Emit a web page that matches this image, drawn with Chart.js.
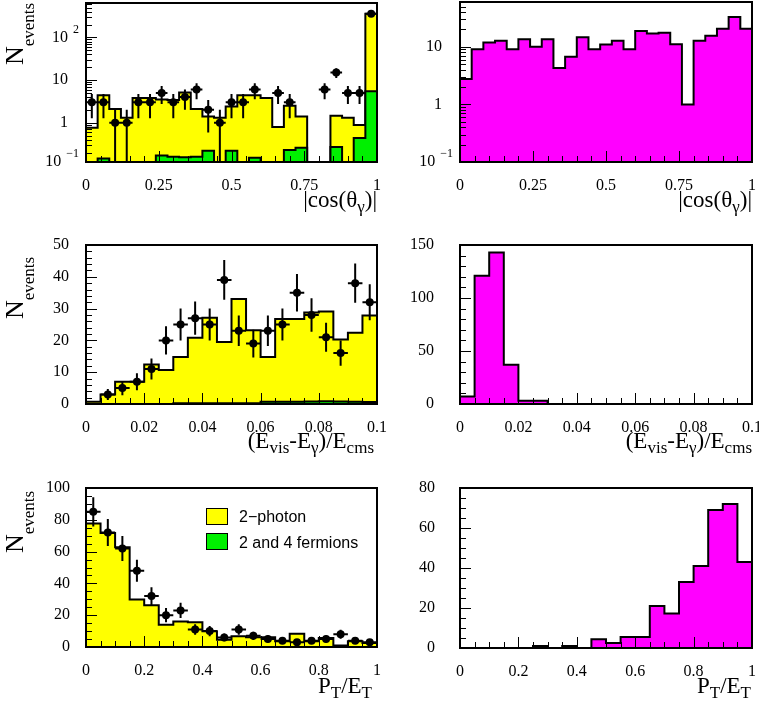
<!DOCTYPE html>
<html>
<head>
<meta charset="utf-8">
<script src="https://cdn.jsdelivr.net/npm/chart.js@4.4.1/dist/chart.umd.min.js"></script>
<style>
  html, body { margin: 0; padding: 0; background: #fff; }
  body { position: relative; width: 759px; height: 709px; overflow: hidden; font-family: 'Liberation Serif', 'Times New Roman', serif; color: #000; }
  canvas { position: absolute; }
  .xt { position: absolute; font-size: 23px; line-height: 23px; white-space: nowrap; text-align: right; }
  .xt .s { font-size: 17px; position: relative; top: 5px; }
  .yt { position: absolute; font-size: 26px; line-height: 26px; white-space: nowrap; transform: rotate(-90deg); transform-origin: left top; }
  .yt .s { font-size: 17px; position: relative; top: 11px; }
  .leg { position: absolute; font-family: 'Liberation Sans', Arial, sans-serif; font-size: 16px; line-height: 18px; white-space: nowrap; }
  .box { position: absolute; width: 20px; height: 15px; border: 1.5px solid #000; }
</style>
</head>
<body>
<canvas id="cosAll" width="390" height="230" style="left:0;top:0"></canvas>
<canvas id="cosSig" width="369" height="230" style="left:390px;top:0"></canvas>
<canvas id="evisAll" width="390" height="245" style="left:0;top:230px"></canvas>
<canvas id="evisSig" width="369" height="245" style="left:390px;top:230px"></canvas>
<canvas id="ptAll" width="390" height="234" style="left:0;top:475px"></canvas>
<canvas id="ptSig" width="369" height="234" style="left:390px;top:475px"></canvas>

<div class="yt" style="left:2px;top:65px">N<span class="s">events</span></div>
<div class="yt" style="left:2px;top:319px">N<span class="s">events</span></div>
<div class="yt" style="left:2px;top:553px">N<span class="s">events</span></div>

<div class="xt" style="right:382px;top:188px">|cos(θ<span class="s">γ</span>)|</div>
<div class="xt" style="right:7px;top:188px">|cos(θ<span class="s">γ</span>)|</div>
<div class="xt" style="right:385px;top:429px">(E<span class="s">vis</span>-E<span class="s">γ</span>)/E<span class="s">cms</span></div>
<div class="xt" style="right:7px;top:429px">(E<span class="s">vis</span>-E<span class="s">γ</span>)/E<span class="s">cms</span></div>
<div class="xt" style="right:387px;top:674px">P<span class="s">T</span>/E<span class="s">T</span></div>
<div class="xt" style="right:8px;top:674px">P<span class="s">T</span>/E<span class="s">T</span></div>

<div class="box" style="left:206px;top:508px;background:#ffff00"></div>
<div class="leg" style="left:239px;top:508px">2−photon</div>
<div class="box" style="left:206px;top:533px;background:#00f000"></div>
<div class="leg" style="left:239px;top:534px">2 and 4 fermions</div>

<script>
// |cos(theta_gamma)|, 25 bins from 0 to 1
const cosTotal = [0.76, 4.4, 2.1, 1.3, 3.8, 3.8, 3.5, 3.4, 5.1, 2.1, 1.4, 1.3, 2.4, 4.4, 4.4, 3.8, 0.79, 2.5, 1.4, 0, 0, 1.45, 1.3, 0.88, 360];
const cosFermion = [0, 0.145, 0, 0, 0, 0, 0.17, 0.16, 0.155, 0.16, 0.22, 0, 0.22, 0, 0.15, 0, 0, 0.23, 0.26, 0, 0, 0.27, 0, 0.44, 5.5];
const cosData = [3, 3, 1, 1, 3, 3, 5, 3, 4, 6, 2, 1, 3, 3, 6, null, 5, 3, null, null, 6, 15, 5, 5, 360];
const cosSignal = [2.75, 9.1, 11.9, 12.7, 9.1, 13.5, 10, 13.5, 4.3, 6.7, 14.7, 9.1, 11, 12.7, 9.1, 18.9, 17, 17.5, 11.1, 1.0, 12.7, 15.5, 20.5, 33, 20.5];

// (Evis-Egamma)/Ecms, 20 bins from 0 to 0.1
const evisTotal = [0.7, 3, 7, 7, 12.4, 10.7, 14.8, 20.8, 27.1, 19.5, 33, 23.2, 14.8, 26.7, 26.7, 28.8, 29.1, 20.3, 22.4, 27.8];
const evisFermion = [0, 0, 0, 0, 0, 0, 0.2, 0.2, 0.2, 0.2, 0.2, 0.2, 0.7, 0.7, 0.7, 0.8, 0.9, 0.8, 0.7, 0.6];
const evisData = [null, 3, 5, 7, 11, 20, 25, 27, 25, 39, 23, 19, 23, 25, 35, 28, 21, 16, 38, 32];
const evisSignal = [7, 121, 143, 37, 3, 3, 0, 0, 0, 0, 0, 0, 0, 0, 0, 0, 0, 0, 0, 0];

// PT/ET, 20 bins from 0 to 1
const ptTotal = [77.6, 71.7, 62.7, 29.8, 26.2, 14, 16.1, 15.5, 9.9, 4.6, 6.7, 6.1, 6.1, 3.6, 8.4, 3.6, 5.7, 1, 3.6, 2.5];
const ptData = [85, 72, 62, 48, 32, 20, 23, 11, 10, 6, 11, 7, 5, 4, 3, 4, 5, 8, 4, 3];
const ptSignal = [0, 0, 0, 0, 0, 1, 0, 1, 0, 4.4, 2.5, 5.5, 5.5, 21, 17.2, 33, 41, 69, 72, 43];

// axis ticks
const cosTicks = [0, 0.25, 0.5, 0.75, 1];
const cosTickLabels = ['0', '0.25', '0.5', '0.75', '1'];
const evisTicks = [0, 0.02, 0.04, 0.06, 0.08, 0.1];
const evisTickLabels = ['0', '0.02', '0.04', '0.06', '0.08', '0.1'];
const ptTicks = [0, 0.2, 0.4, 0.6, 0.8, 1];
const ptTickLabels = ['0', '0.2', '0.4', '0.6', '0.8', '1'];
const logTicksAll = [0.12, 1, 10, 100];
const logLabelsAll = ['10^-1', '1', '10', '10^2'];
const logTicksSig = [0.1, 1, 10];
const logLabelsSig = ['10^-1', '1', '10'];

const YELLOW = '#ffff00';
const GREEN = '#00f000';
const MAGENTA = '#ff00ff';
const SERIF = 'Liberation Serif, Times New Roman, serif';
const FONT = { family: SERIF, size: 16 };
const LOG_FLOOR = 1e-3; // empty bins on a log axis sit below the frame

function histPoints(values, lo, hi, floor) {
  const w = (hi - lo) / values.length;
  const yOf = v => (v > 0 ? v : floor);
  const pts = values.map((v, i) => ({ x: lo + i * w, y: yOf(v) }));
  pts.push({ x: hi, y: yOf(values[values.length - 1]) });
  return pts;
}

function markerPoints(values, lo, hi) {
  const w = (hi - lo) / values.length;
  return values.map((v, i) => (v == null ? null : { x: lo + (i + 0.5) * w, y: v })).filter(Boolean);
}

function errorSegments(values, lo, hi, floor) {
  const w = (hi - lo) / values.length;
  const out = [];
  values.forEach((v, i) => {
    if (v == null) return;
    const xc = lo + (i + 0.5) * w;
    const e = Math.sqrt(v);
    const low = v - e > 0 ? v - e : floor;
    out.push({ x: xc, y: low }, { x: xc, y: v + e }, { x: xc, y: null });
    out.push({ x: xc - w / 2, y: v }, { x: xc + w / 2, y: v }, { x: xc, y: null });
  });
  return out;
}

function histDataset(values, lo, hi, color, order, floor = 0) {
  return {
    data: histPoints(values, lo, hi, floor),
    stepped: 'before',
    fill: 'start',
    backgroundColor: color,
    borderColor: '#000',
    borderWidth: 2,
    borderJoinStyle: 'miter',
    pointRadius: 0,
    order
  };
}

function dataDatasets(values, lo, hi, floor = 0) {
  return [
    {
      data: markerPoints(values, lo, hi),
      showLine: false,
      pointRadius: 4,
      pointBackgroundColor: '#000',
      pointBorderWidth: 0,
      order: 0
    },
    {
      data: errorSegments(values, lo, hi, floor),
      borderColor: '#000',
      borderWidth: 2,
      pointRadius: 0,
      spanGaps: false,
      order: 1
    }
  ];
}

function steps(lo, hi, step) {
  const out = [];
  for (let i = 0; lo + i * step <= hi + 1e-9; i++) out.push(lo + i * step);
  return out;
}

function logMinor(lo, hi) {
  const out = [];
  [0.01, 0.1, 1, 10, 100, 1000].forEach(d => {
    for (let k = 1; k <= 9; k++) {
      const v = k * d;
      if (v > lo && v < hi) out.push(v);
    }
  });
  return out;
}

// inward ticks on bottom and left, the frame, and 10^n labels for log axes
const frameTicks = {
  id: 'frameTicks',
  afterDatasetsDraw(chart, args, opts) {
    const { ctx, chartArea: a, scales: { x, y } } = chart;
    ctx.save();
    ctx.strokeStyle = '#000';
    ctx.lineWidth = 1;
    ctx.beginPath();
    const xTick = (v, len) => {
      const px = Math.round(x.getPixelForValue(v)) + 0.5;
      ctx.moveTo(px, a.bottom);
      ctx.lineTo(px, a.bottom - len);
    };
    const yTick = (v, len) => {
      const py = Math.round(y.getPixelForValue(v)) + 0.5;
      ctx.moveTo(a.left, py);
      ctx.lineTo(a.left + len, py);
    };
    opts.xMinor.forEach(v => xTick(v, 6));
    opts.xMajor.forEach(v => xTick(v, 11));
    opts.yMinor.forEach(v => yTick(v, 6));
    opts.yMajor.forEach(v => yTick(v, 11));
    ctx.stroke();
    ctx.lineWidth = 2;
    ctx.strokeRect(a.left, a.top, a.right - a.left, a.bottom - a.top);

    if (opts.expLabels) {
      ctx.fillStyle = '#000';
      ctx.textBaseline = 'middle';
      ctx.textAlign = 'right';
      opts.yMajor.forEach((v, i) => {
        const [base, exp] = opts.expLabels[i].split('^');
        const py = y.getPixelForValue(v);
        if (exp) {
          const expText = exp.replace('-', '−');
          ctx.font = '12px ' + SERIF;
          const ew = ctx.measureText(expText).width;
          const ex = a.left - 7;
          ctx.fillText(expText, ex, py - 8);
          ctx.font = '16px ' + SERIF;
          ctx.fillText(base, ex - ew - 5, py);
        } else {
          ctx.font = '16px ' + SERIF;
          ctx.fillText(base, a.left - 18, py);
        }
      });
    }
    ctx.restore();
  }
};
Chart.register(frameTicks);
Chart.defaults.font.family = SERIF;
Chart.defaults.font.size = 16;

function makePanel(id, p) {
  return new Chart(document.getElementById(id), {
    type: 'line',
    data: { datasets: p.datasets },
    options: {
      responsive: false,
      animation: false,
      events: [],
      layout: { autoPadding: false, padding: p.pad },
      plugins: {
        legend: { display: false },
        tooltip: { enabled: false },
        frameTicks: { xMajor: p.xTicks, xMinor: p.xMinor, yMajor: p.yTicks, yMinor: p.yMinor, expLabels: p.yLog ? p.yLabels : null }
      },
      scales: {
        x: {
          type: 'linear',
          min: p.xRange[0],
          max: p.xRange[1],
          grid: { display: false },
          border: { display: false },
          afterBuildTicks: s => { s.ticks = p.xTicks.map(v => ({ value: v })); },
          afterFit: s => { s.height = 40; s.paddingLeft = 0; s.paddingRight = 0; },
          ticks: { font: FONT, color: '#000', padding: 6, maxRotation: 0, autoSkip: false, callback: (v, i) => p.xLabels[i] }
        },
        y: {
          type: p.yLog ? 'logarithmic' : 'linear',
          min: p.yRange[0],
          max: p.yRange[1],
          grid: { display: false },
          border: { display: false },
          afterBuildTicks: s => { s.ticks = p.yTicks.map(v => ({ value: v })); },
          afterFit: s => { s.width = p.yWidth; s.paddingTop = 0; s.paddingBottom = 0; },
          ticks: { display: !p.yLog, font: FONT, color: '#000', padding: p.yPad, autoSkip: false, callback: (v, i) => p.yLabels[i] }
        }
      }
    }
  });
}

const LEFT = { yWidth: 86, right: 13 };
const RIGHT = { yWidth: 70, right: 7 };

function drawAll() {
  makePanel('cosAll', {
    datasets: [
      ...dataDatasets(cosData, 0, 1, LOG_FLOOR),
      histDataset(cosFermion, 0, 1, GREEN, 2, LOG_FLOOR),
      histDataset(cosTotal, 0, 1, YELLOW, 3, LOG_FLOOR)
    ],
    pad: { left: 0, right: LEFT.right, top: 3, bottom: 28 },
    yWidth: LEFT.yWidth, yPad: 9,
    xRange: [0, 1], xTicks: cosTicks, xLabels: cosTickLabels, xMinor: steps(0, 1, 0.05),
    yLog: true, yRange: [0.12, 640], yTicks: logTicksAll, yLabels: logLabelsAll, yMinor: logMinor(0.12, 640)
  });

  makePanel('cosSig', {
    datasets: [histDataset(cosSignal, 0, 1, MAGENTA, 3, LOG_FLOOR)],
    pad: { left: 0, right: RIGHT.right, top: 2, bottom: 28 },
    yWidth: RIGHT.yWidth, yPad: 7,
    xRange: [0, 1], xTicks: cosTicks, xLabels: cosTickLabels, xMinor: steps(0, 1, 0.05),
    yLog: true, yRange: [0.1, 60], yTicks: logTicksSig, yLabels: logLabelsSig, yMinor: logMinor(0.1, 60)
  });

  makePanel('evisAll', {
    datasets: [
      ...dataDatasets(evisData, 0, 0.1),
      histDataset(evisFermion, 0, 0.1, GREEN, 2),
      histDataset(evisTotal, 0, 0.1, YELLOW, 3)
    ],
    pad: { left: 0, right: LEFT.right, top: 15, bottom: 31 },
    yWidth: LEFT.yWidth, yPad: 9,
    xRange: [0, 0.1], xTicks: evisTicks, xLabels: evisTickLabels, xMinor: steps(0, 0.1, 0.005),
    yLog: false, yRange: [0, 50], yTicks: steps(0, 50, 10), yLabels: ['0', '10', '20', '30', '40', '50'], yMinor: steps(0, 50, 2)
  });

  makePanel('evisSig', {
    datasets: [histDataset(evisSignal, 0, 0.1, MAGENTA, 3)],
    pad: { left: 0, right: RIGHT.right, top: 15, bottom: 31 },
    yWidth: RIGHT.yWidth, yPad: 18,
    xRange: [0, 0.1], xTicks: evisTicks, xLabels: evisTickLabels, xMinor: steps(0, 0.1, 0.005),
    yLog: false, yRange: [0, 150], yTicks: steps(0, 150, 50), yLabels: ['0', '50', '100', '150'], yMinor: steps(0, 150, 10)
  });

  makePanel('ptAll', {
    datasets: [
      ...dataDatasets(ptData, 0, 1),
      histDataset(ptTotal, 0, 1, YELLOW, 3)
    ],
    pad: { left: 0, right: LEFT.right, top: 13, bottom: 22 },
    yWidth: LEFT.yWidth, yPad: 8,
    xRange: [0, 1], xTicks: ptTicks, xLabels: ptTickLabels, xMinor: steps(0, 1, 0.05),
    yLog: false, yRange: [0, 100], yTicks: steps(0, 100, 20), yLabels: ['0', '20', '40', '60', '80', '100'], yMinor: steps(0, 100, 5)
  });

  makePanel('ptSig', {
    datasets: [histDataset(ptSignal, 0, 1, MAGENTA, 3)],
    pad: { left: 0, right: RIGHT.right, top: 13, bottom: 21 },
    yWidth: RIGHT.yWidth, yPad: 17,
    xRange: [0, 1], xTicks: ptTicks, xLabels: ptTickLabels, xMinor: steps(0, 1, 0.05),
    yLog: false, yRange: [0, 80], yTicks: steps(0, 80, 20), yLabels: ['0', '20', '40', '60', '80'], yMinor: steps(0, 80, 5)
  });
}

if (document.fonts && document.fonts.ready) {
  document.fonts.ready.then(drawAll);
} else {
  drawAll();
}
</script>
</body>
</html>
